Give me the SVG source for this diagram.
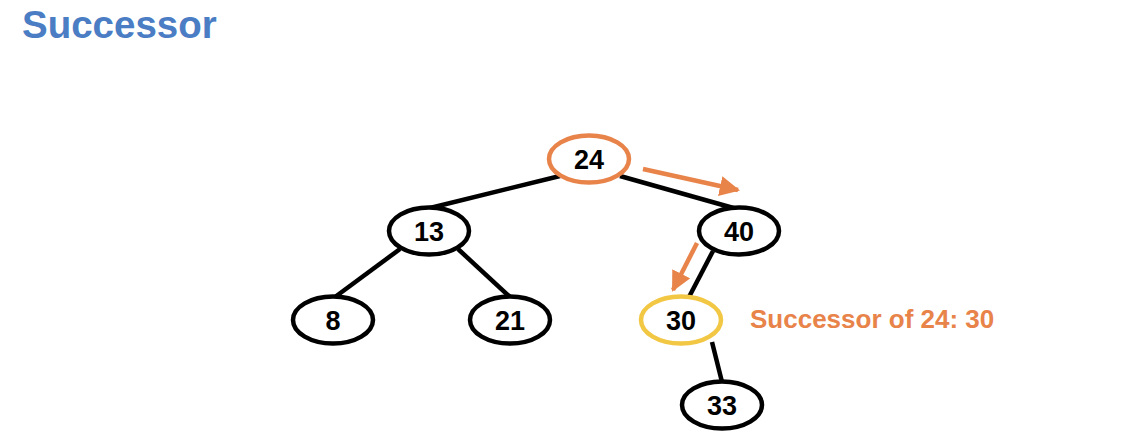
<svg xmlns="http://www.w3.org/2000/svg" width="1148" height="446" viewBox="0 0 1148 446">
<style>
.node ellipse{fill:#fff;stroke:#000;stroke-width:4.5}
.node text{font-family:"Liberation Sans",Arial,sans-serif;font-weight:bold;font-size:27px;text-anchor:middle;fill:#000}
.edge{stroke:#000;stroke-width:4.5;fill:none}
.arrow{stroke:#E8834A;stroke-width:4.5;fill:none}
</style>
<defs>
<marker id="ah" viewBox="0 0 10 10" refX="9" refY="5" markerWidth="4.5" markerHeight="4.5" orient="auto" markerUnits="strokeWidth">
<path d="M0,0 L10,5 L0,10 Z" fill="#E8834A"/>
</marker>
</defs>
<rect width="1148" height="446" fill="#fff"/>
<text x="22" y="38" font-family="'Liberation Sans',Arial,sans-serif" font-weight="bold" font-size="38.5" fill="#4A7DC4">Successor</text>
<g id="connectors">
<line class="edge" x1="560" y1="176" x2="430" y2="208"/>
<line class="edge" x1="620" y1="176" x2="737" y2="209"/>
<line class="edge" x1="400" y1="249" x2="335" y2="297"/>
<line class="edge" x1="458" y1="249" x2="510" y2="297"/>
<line class="edge" x1="713" y1="251" x2="689" y2="297"/>
<line class="edge" x1="712" y1="342" x2="722" y2="382"/>
<line class="arrow" x1="643" y1="169" x2="738" y2="190" marker-end="url(#ah)"/>
<line class="arrow" x1="697" y1="243" x2="673" y2="290" marker-end="url(#ah)"/>
</g>
<g id="n24" class="node"><ellipse cx="589" cy="159" rx="40" ry="23.5" style="stroke:#E8834A"/><text x="589" y="168.5">24</text></g>
<g id="n13" class="node"><ellipse cx="429" cy="231" rx="40" ry="23.5"/><text x="429" y="240.5">13</text></g>
<g id="n40" class="node"><ellipse cx="739" cy="231" rx="40" ry="23.5"/><text x="739" y="240.5">40</text></g>
<g id="n8" class="node"><ellipse cx="333" cy="320" rx="40" ry="23.5"/><text x="333" y="330">8</text></g>
<g id="n21" class="node"><ellipse cx="510" cy="320" rx="40" ry="23.5"/><text x="510" y="330">21</text></g>
<g id="n30" class="node"><ellipse cx="681" cy="320" rx="40" ry="23.5" style="stroke:#F2C744"/><text x="681" y="330">30</text></g>
<g id="n33" class="node"><ellipse cx="722" cy="405" rx="40" ry="23.5"/><text x="722" y="414.5">33</text></g>
<text x="750" y="328" font-family="'Liberation Sans',Arial,sans-serif" font-weight="bold" font-size="26" fill="#E8834A">Successor of 24: 30</text>
</svg>
